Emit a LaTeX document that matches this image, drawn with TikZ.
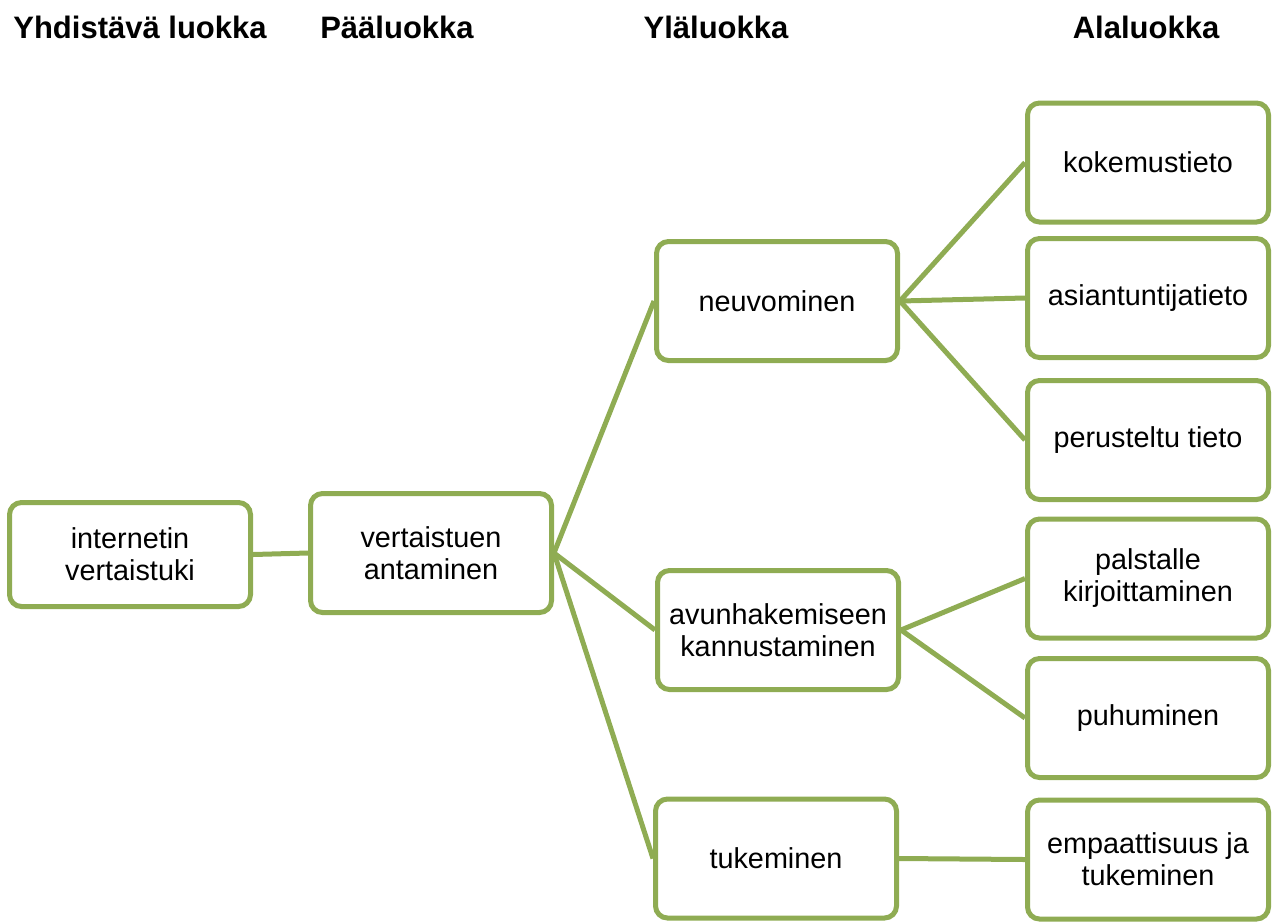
\documentclass[tikz,border=0pt]{standalone}
\usepackage{fontspec}
\setmainfont{Liberation Sans}
\definecolor{olive}{RGB}{143,172,83}
\begin{document}
\begin{tikzpicture}[x=1pt,y=-1pt,
  box/.style={draw=olive, line width=5pt, rounded corners=12pt, fill=white,
    minimum width=241pt, minimum height=119pt, align=center,
    font=\fontsize{28.8}{32}\selectfont, inner sep=2pt},
  hdr/.style={anchor=base, font=\fontsize{31}{36}\selectfont\bfseries},
  link/.style={draw=olive, line width=5pt}]
\useasboundingbox (0,0) rectangle (1273,922);
% headers
\node[hdr] (h1) at (140,38) {Yhdistävä luokka};
\node[hdr] (h2) at (397,38) {Pääluokka};
\node[hdr] (h3) at (716,38) {Yläluokka};
\node[hdr] (h4) at (1146,38) {Alaluokka};
% boxes
\node[box, minimum height=104pt] (iv) at (130,554.5) {internetin\\vertaistuki};
\node[box] (va) at (431,553) {vertaistuen\\antaminen};
\node[box] (ne) at (777,301) {neuvominen};
\node[box] (ak) at (778,630) {avunhakemiseen\\kannustaminen};
\node[box] (tu) at (776,858.5) {tukeminen};
\node[box] (ko) at (1148,162.5) {kokemustieto};
\node[box] (as) at (1148,298) {asiantuntijatieto};
\node[box] (pe) at (1148,440) {perusteltu tieto};
\node[box] (pa) at (1148,578.5) {palstalle\\kirjoittaminen};
\node[box] (pu) at (1148,718) {puhuminen};
\node[box] (em) at (1148,859.5) {empaattisuus ja\\tukeminen};
% connectors
\begin{scope}[on background layer/.try]
\end{scope}
\draw[link] (iv.east) -- (va.west);
\draw[link] (va.east) -- (ne.west);
\draw[link] (va.east) -- (ak.west);
\draw[link] (va.east) -- (tu.west);
\draw[link] (ne.east) -- (ko.west);
\draw[link] (ne.east) -- (as.west);
\draw[link] (ne.east) -- (pe.west);
\draw[link] (ak.east) -- (pa.west);
\draw[link] (ak.east) -- (pu.west);
\draw[link] (tu.east) -- (em.west);
\end{tikzpicture}
\end{document}
